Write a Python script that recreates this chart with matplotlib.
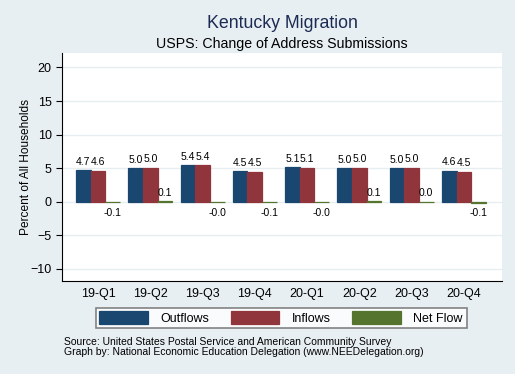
import numpy as np
import matplotlib.pyplot as plt

plt.rcParams['font.family'] = ['Liberation Sans', 'DejaVu Sans']

quarters = ['19-Q1', '19-Q2', '19-Q3', '19-Q4', '20-Q1', '20-Q2', '20-Q3', '20-Q4']
outflows = [4.70, 4.97, 5.43, 4.54, 5.12, 4.98, 5.02, 4.62]
inflows = [4.60, 5.04, 5.40, 4.47, 5.09, 5.05, 5.04, 4.49]
netflow = [-0.10, 0.07, -0.03, -0.07, -0.03, 0.07, 0.02, -0.13]

bg = '#e8eff2'
navy = '#1a476f'
maroon = '#90353b'
green = '#55752f'

fig = plt.figure(figsize=(5.15, 3.74), dpi=100, facecolor=bg)
ax = fig.add_axes([62/515, 1 - 281/374, 440/515, 228/374])
ax.set_facecolor('white')

x = np.arange(len(quarters))
w = 0.281
series = [(outflows, navy, 'Outflows'), (inflows, maroon, 'Inflows'), (netflow, green, 'Net Flow')]
for k, (vals, col, lab) in enumerate(series):
    xs = x + (k - 1) * w
    ax.bar(xs, vals, width=w, color=col, edgecolor=col, linewidth=0.9, label=lab, zorder=3)
    for xi, v in zip(xs, vals):
        if v >= 0:
            ax.annotate(f'{v:.1f}', (xi, v), xytext=(0, 2.5), textcoords='offset points',
                        ha='center', va='bottom', fontsize=7.5)
        else:
            ax.annotate(f'{v:.1f}', (xi, v), xytext=(0, -4), textcoords='offset points',
                        ha='center', va='top', fontsize=7.5)

ax.set_xlim(-0.69, 7.73)
ax.set_ylim(-11.8, 22.15)
ax.set_yticks([-10, -5, 0, 5, 10, 15, 20])
ax.set_xticks(x)
ax.set_xticklabels(quarters, fontsize=9)
ax.tick_params(axis='x', length=0, pad=5)
ax.tick_params(axis='y', labelsize=9, length=4, width=0.8)
ax.grid(axis='y', color='#e6eef0', linewidth=1, zorder=0)
for s in ['top', 'right']:
    ax.spines[s].set_visible(False)
for s in ['left', 'bottom']:
    ax.spines[s].set_linewidth(0.8)
ax.set_ylabel('Percent of All Households', fontsize=8.6)
ax.yaxis.set_label_coords(-0.068, 0.5)

fig.text(282/515, 1 - 23/374, 'Kentucky Migration', ha='center', va='center',
         fontsize=12.8, color='#1c2b54')
fig.text(282/515, 1 - 44/374, 'USPS: Change of Address Submissions', ha='center',
         va='center', fontsize=10.2)

leg = fig.legend(loc='center', bbox_to_anchor=(281/515, 1 - 318/374), ncol=3,
                 fontsize=9, handlelength=3.9, handleheight=1.15, columnspacing=1.7,
                 handletextpad=1.0, frameon=True, fancybox=False, borderpad=0.3)
leg.get_frame().set_edgecolor('#666666')
leg.get_frame().set_linewidth(1.2)

fig.text(64/515, 1 - 342/374, 'Source: United States Postal Service and American Community Survey',
         fontsize=7.5, va='center')
fig.text(64/515, 1 - 352/374, 'Graph by: National Economic Education Delegation (www.NEEDelegation.org)',
         fontsize=7.5, va='center')

fig.savefig('out.png', dpi=100, facecolor=bg)
